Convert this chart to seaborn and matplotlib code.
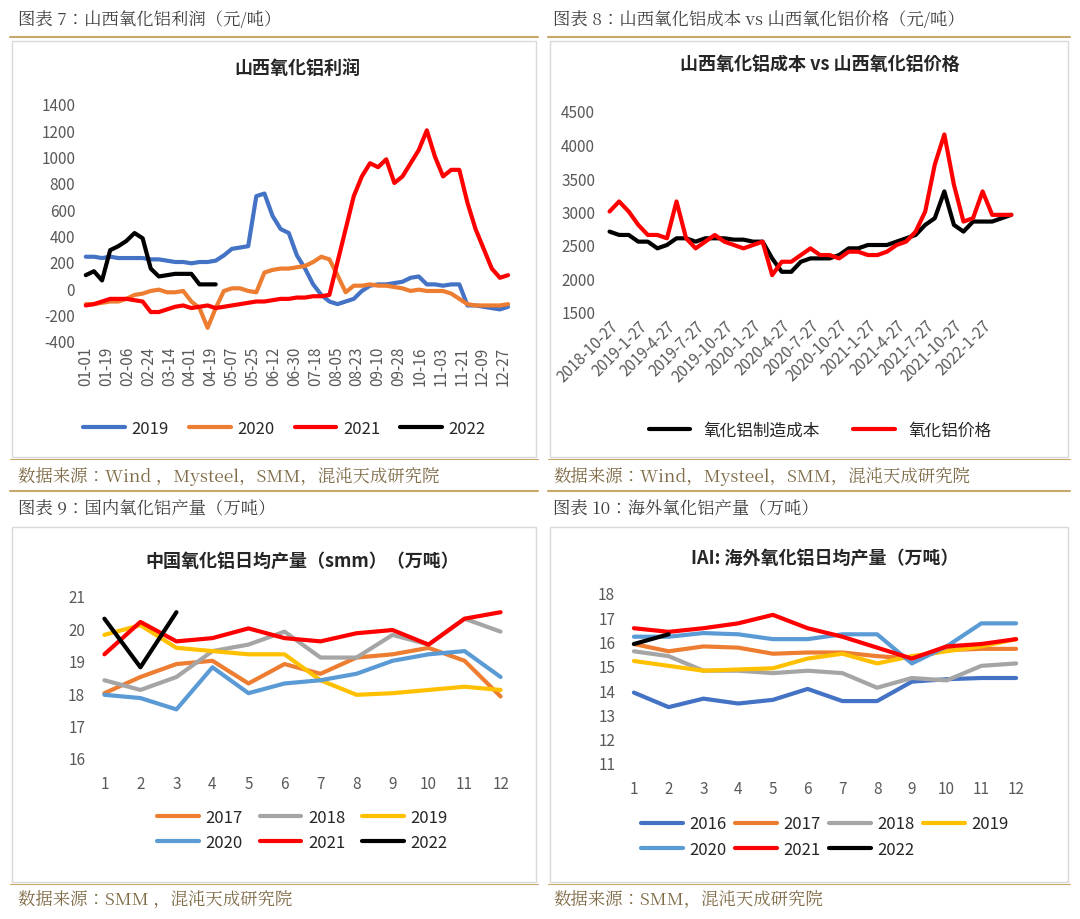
import matplotlib
matplotlib.use("Agg")
import matplotlib.pyplot as plt
from matplotlib import font_manager
import seaborn as sns
import pandas as pd
from matplotlib.patches import Rectangle
from matplotlib.lines import Line2D

names = sorted({f.name for f in font_manager.fontManager.ttflist})
sans_cjk = [n for n in names if "Sans CJK" in n]
serif_cjk = [n for n in names if "Serif CJK" in n]
sans_name = "Noto Sans CJK SC" if "Noto Sans CJK SC" in sans_cjk else (sans_cjk[0] if sans_cjk else "DejaVu Sans")
serif_name = serif_cjk[0] if serif_cjk else sans_name
sns.set_style("white")
plt.rcParams["font.family"] = "sans-serif"
plt.rcParams["font.sans-serif"] = [sans_name, "DejaVu Sans"]
plt.rcParams["axes.unicode_minus"] = False

# ---- chart 7: Shanxi alumina profit (weekly, yuan/t) ----
profit_ticks = ["01-01", "01-19", "02-06", "02-24", "03-14", "04-01", "04-19", "05-07", "05-25",
                "06-12", "06-30", "07-18", "08-05", "08-23", "09-10", "09-28", "10-16", "11-03",
                "11-21", "12-09", "12-27"]
profit_2019 = [240, 240, 230, 240, 230, 230, 230, 230, 220, 220, 210, 200, 200, 190, 200, 200, 210,
               250, 300, 310, 320, 700, 720, 550, 450, 420, 250, 150, 30, -50, -100, -120, -100, -80,
               -20, 20, 30, 30, 40, 50, 80, 90, 30, 30, 20, 30, 30, -130, -130, -140, -150, -160, -140]
profit_2020 = [-120, -120, -110, -100, -100, -80, -50, -40, -20, -10, -30, -30, -20, -100, -150, -300,
               -150, -20, 0, 0, -20, -30, 120, 140, 150, 150, 160, 170, 200, 240, 220, 100, -30, 20, 20,
               30, 20, 20, 10, 0, -20, -10, -20, -20, -20, -40, -80, -120, -130, -130, -130, -130, -120]
profit_2021 = [-130, -120, -100, -80, -80, -80, -90, -100, -180, -180, -160, -140, -130, -150, -140,
               -130, -150, -140, -130, -120, -110, -100, -100, -90, -80, -80, -70, -70, -60, -60, -50,
               200, 450, 700, 850, 950, 920, 980, 800, 850, 950, 1050, 1200, 1000, 850, 900, 900, 650,
               450, 300, 150, 80, 100]
profit_2022 = [100, 130, 60, 290, 320, 360, 420, 380, 150, 90, 100, 110, 110, 110, 30, 30, 30]

# ---- chart 8: cost vs price (monthly, from 2018-10-27) ----
cp_ticks = ["2018-10-27", "2019-1-27", "2019-4-27", "2019-7-27", "2019-10-27", "2020-1-27",
            "2020-4-27", "2020-7-27", "2020-10-27", "2021-1-27", "2021-4-27", "2021-7-27",
            "2021-10-27", "2022-1-27"]
cost = [2700, 2650, 2650, 2550, 2550, 2450, 2500, 2600, 2600, 2550, 2600, 2600, 2600, 2580, 2580,
        2550, 2550, 2300, 2100, 2100, 2250, 2300, 2300, 2300, 2350, 2450, 2450, 2500, 2500, 2500,
        2550, 2600, 2650, 2800, 2900, 3300, 2800, 2700, 2850, 2850, 2850, 2900, 2950]
price = [3000, 3150, 3000, 2800, 2650, 2650, 2600, 3150, 2600, 2450, 2550, 2650, 2550, 2500, 2450,
         2500, 2550, 2050, 2250, 2250, 2350, 2450, 2350, 2350, 2300, 2400, 2400, 2350, 2350, 2400,
         2500, 2550, 2700, 3000, 3700, 4150, 3400, 2850, 2900, 3300, 2950, 2950, 2950]

# ---- chart 9: China daily output (10kt) ----
months = list(range(1, 13))
cn = {
    "2017": [18.0, 18.5, 18.9, 19.0, 18.3, 18.9, 18.6, 19.1, 19.2, 19.4, 19.0, 17.9],
    "2018": [18.4, 18.1, 18.5, 19.3, 19.5, 19.9, 19.1, 19.1, 19.8, 19.5, 20.3, 19.9],
    "2019": [19.8, 20.1, 19.4, 19.3, 19.2, 19.2, 18.4, 17.95, 18.0, 18.1, 18.2, 18.1],
    "2020": [17.95, 17.85, 17.5, 18.8, 18.0, 18.3, 18.4, 18.6, 19.0, 19.2, 19.3, 18.5],
    "2021": [19.2, 20.2, 19.6, 19.7, 20.0, 19.7, 19.6, 19.85, 19.95, 19.5, 20.3, 20.5],
    "2022": [20.3, 18.8, 20.5],
}
# ---- chart 10: overseas daily output (10kt) ----
ov = {
    "2016": [13.9, 13.3, 13.65, 13.45, 13.6, 14.05, 13.55, 13.55, 14.35, 14.45, 14.5, 14.5],
    "2017": [15.9, 15.6, 15.8, 15.75, 15.5, 15.55, 15.55, 15.4, 15.3, 15.65, 15.7, 15.7],
    "2018": [15.6, 15.4, 14.8, 14.8, 14.7, 14.8, 14.7, 14.1, 14.5, 14.4, 15.0, 15.1],
    "2019": [15.2, 15.0, 14.8, 14.85, 14.9, 15.3, 15.5, 15.1, 15.4, 15.6, 15.8, 16.1],
    "2020": [16.2, 16.2, 16.35, 16.3, 16.1, 16.1, 16.3, 16.3, 15.1, 15.8, 16.75, 16.75],
    "2021": [16.55, 16.4, 16.55, 16.75, 17.1, 16.55, 16.2, 15.75, 15.3, 15.8, 15.9, 16.1],
    "2022": [15.9, 16.3],
}
colors = {"2016": "#4472c4", "2017": "#ed7d31", "2018": "#a5a5a5", "2019": "#ffc000",
          "2020": "#5b9bd5", "2021": "#ff0000", "2022": "#000000"}

W, H = 1080, 920
fig = plt.figure(figsize=(W / 100, H / 100), dpi=100)


def ax_px(l, t, r, b):
    return fig.add_axes([l / W, 1 - b / H, (r - l) / W, (b - t) / H])


def ftext(x, y, s, **kw):
    fig.text(x / W, 1 - y / H, s, **kw)


def hline(x0, x1, y, color, lw):
    fig.add_artist(Line2D([x0 / W, x1 / W], [1 - y / H, 1 - y / H], color=color, lw=lw))


def box(l, t, r, b):
    fig.add_artist(Rectangle((l / W, 1 - b / H), (r - l) / W, (b - t) / H, fill=False,
                             ec="#d9d9d9", lw=1))


def row_legend(ax, ncol, anchor, **kw):
    # matplotlib fills legend columns first; reorder so entries read row by row
    h, l = ax.get_legend_handles_labels()
    n = len(h)
    nrow = -(-n // ncol)
    order = []
    for c in range(ncol):
        for r in range(nrow):
            i = r * ncol + c
            if i < n:
                order.append(i)
    ax.legend([h[i] for i in order], [l[i] for i in order], loc="upper center",
              bbox_to_anchor=anchor, ncol=ncol, frameon=False, fontsize=12, **kw)


gold = "#c8a86b"
hdr = dict(fontsize=12.5, color="#404040", va="center", family=serif_name)
src = dict(fontsize=12.5, color="#7f6a45", va="center", family=serif_name)
ftext(18, 20, "图表 7：山西氧化铝利润（元/吨）", **hdr)
ftext(553, 20, "图表 8：山西氧化铝成本 vs 山西氧化铝价格（元/吨）", **hdr)
ftext(18, 510, "图表 9：国内氧化铝产量（万吨）", **hdr)
ftext(553, 510, "图表 10：海外氧化铝产量（万吨）", **hdr)
ftext(18, 477, "数据来源：Wind ，Mysteel，SMM，混沌天成研究院", **src)
ftext(553, 477, "数据来源：Wind，Mysteel，SMM，混沌天成研究院", **src)
ftext(18, 900, "数据来源：SMM ，混沌天成研究院", **src)
ftext(553, 900, "数据来源：SMM，混沌天成研究院", **src)
for y in (38, 492):
    hline(10, 538, y, gold, 1.5)
    hline(548, 1070, y, gold, 1.5)
for y in (460, 885):
    hline(10, 538, y, gold, 0.8)
    hline(548, 1070, y, gold, 0.8)
box(12, 42, 536, 458)
box(550, 42, 1068, 458)
box(12, 528, 536, 883)
box(550, 528, 1068, 883)


def style(ax):
    sns.despine(ax=ax, left=True, bottom=True)
    ax.tick_params(length=0, labelsize=11, colors="#595959")
    ax.set_xlabel("")
    ax.set_ylabel("")


# chart 7
ax = ax_px(80, 105, 515, 342)
for name, vals, c in [("2019", profit_2019, "#4472c4"), ("2020", profit_2020, "#ed7d31"),
                      ("2021", profit_2021, "#ff0000"), ("2022", profit_2022, "#000000")]:
    d = pd.DataFrame({"day": [i * 7 for i in range(len(vals))], "v": vals})
    sns.lineplot(data=d, x="day", y="v", ax=ax, color=c, lw=3, label=name)
ax.set_xticks([i * 18 for i in range(len(profit_ticks))])
ax.set_xticklabels(profit_ticks, rotation=90)
ax.set_xlim(-5, 370)
ax.set_ylim(-400, 1400)
ax.set_yticks(range(-400, 1401, 200))
style(ax)
ax.legend(loc="upper center", bbox_to_anchor=(0.47, -0.27), ncol=4, frameon=False, fontsize=12,
          handlelength=2.5, columnspacing=1.2, handletextpad=0.4)
ax.set_title("山西氧化铝利润", fontsize=13, fontweight="bold", pad=22)

# chart 8
ax = ax_px(600, 112, 1040, 313)
d = pd.DataFrame({"m": range(len(cost)), "cost": cost, "price": price})
sns.lineplot(data=d, x="m", y="cost", ax=ax, color="#000000", lw=3, label="氧化铝制造成本")
sns.lineplot(data=d, x="m", y="price", ax=ax, color="#ff0000", lw=3, label="氧化铝价格")
ax.set_xticks(range(0, 3 * len(cp_ticks), 3))
ax.set_xticklabels(cp_ticks, rotation=45, ha="right", rotation_mode="anchor")
ax.set_xlim(-1, 45)
ax.set_ylim(1500, 4500)
ax.set_yticks(range(1500, 4501, 500))
style(ax)
ax.legend(loc="upper center", bbox_to_anchor=(0.5, -0.47), ncol=2, frameon=False, fontsize=12,
          handlelength=2.5)
ax.set_title("山西氧化铝成本 vs 山西氧化铝价格", fontsize=13, fontweight="bold", pad=30)


def yearly(ax, data, ylim, title):
    for k, v in data.items():
        d = pd.DataFrame({"m": months[:len(v)], "v": v})
        sns.lineplot(data=d, x="m", y="v", ax=ax, color=colors[k], lw=3, label=k)
    ax.set_xticks(months)
    ax.set_xlim(0.6, 12.4)
    ax.set_ylim(*ylim)
    ax.set_yticks(range(ylim[0], ylim[1] + 1))
    style(ax)
    ax.tick_params(axis="x", pad=12)
    ax.set_title(title, fontsize=13, fontweight="bold", pad=22)


ax = ax_px(90, 597, 515, 759)
yearly(ax, cn, (16, 21), "中国氧化铝日均产量（smm）（万吨）")
row_legend(ax, 3, (0.5, -0.22), handlelength=2.5, columnspacing=1.0, handletextpad=0.4)

ax = ax_px(620, 594, 1030, 764)
yearly(ax, ov, (11, 18), "IAI: 海外氧化铝日均产量（万吨）")
row_legend(ax, 4, (0.5, -0.22), handlelength=2.5, columnspacing=0.5, handletextpad=0.4)

fig.savefig("out.png", dpi=100)
